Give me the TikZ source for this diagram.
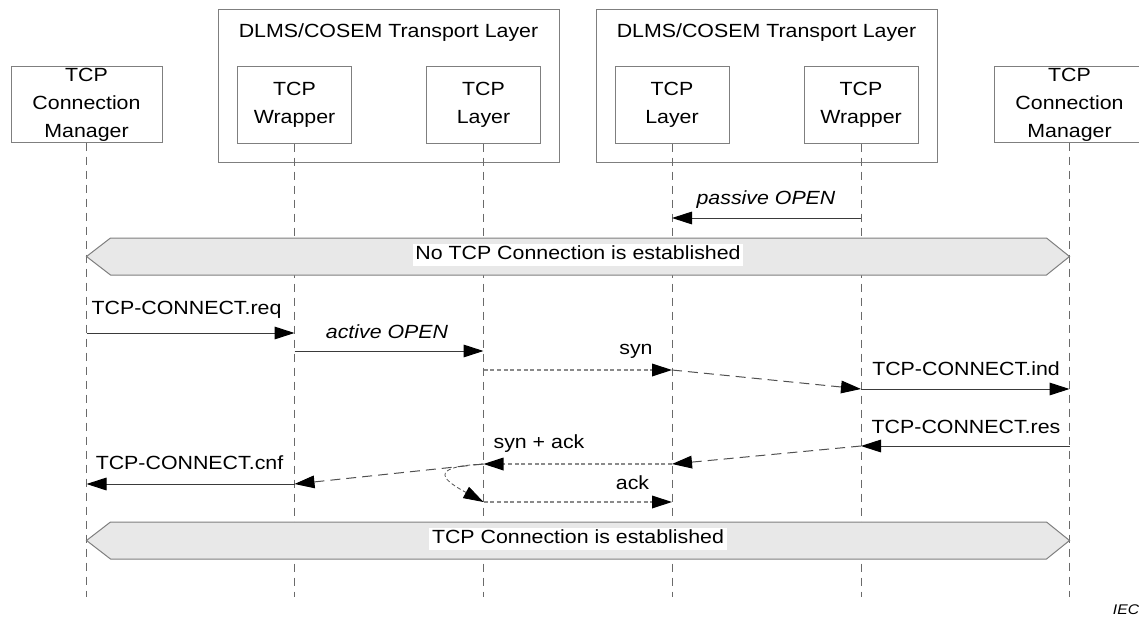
\documentclass[tikz,border=0pt]{standalone}
\usepackage{fontspec}
\setmainfont{Liberation Sans}[FakeStretch=1.12]
\usetikzlibrary{arrows.meta,calc}
\definecolor{boxgray}{HTML}{7F7F7F}
\definecolor{lifegray}{HTML}{6A6A6A}
\definecolor{msgdark}{HTML}{3A3A3A}
\definecolor{dotgray}{HTML}{8A8A8A}
\definecolor{diaggray}{HTML}{505050}
\definecolor{banfill}{HTML}{E8E8E8}
\begin{document}
\begin{tikzpicture}[x=0.75pt,y=-0.75pt,
  font=\fontsize{14.3}{21}\selectfont,
  tip/.tip={Triangle[length=15pt,width=9.5pt]},
  outerbox/.style={draw=boxgray,line width=0.75pt,minimum width=255.75pt,minimum height=114pt,inner sep=0pt},
  tcmbox/.style={draw=boxgray,line width=0.75pt,minimum width=113.25pt,minimum height=56.25pt,align=center,inner sep=0pt},
  inbox/.style={draw=boxgray,line width=0.75pt,minimum width=85.5pt,minimum height=57pt,align=center,inner sep=0pt},
  life/.style={draw=lifegray,line width=0.6pt,dash pattern=on 6pt off 4.5pt},
  solidmsg/.style={draw=msgdark,line width=0.75pt,-{tip[black]}},
  dotmsg/.style={draw=dotgray,line width=0.9pt,dash pattern=on 3pt off 2pt,-{tip[black]}},
  diagmsg/.style={draw=diaggray,line width=0.75pt,dash pattern=on 7.5pt off 4.5pt,-{tip[black]}},
  curvemsg/.style={draw=diaggray,line width=0.6pt,dash pattern=on 3pt off 2pt,-{tip[black]}},
  banner/.style={draw=boxgray,fill=banfill,line width=0.75pt},
  bantext/.style={fill=white,inner xsep=2pt,inner ysep=1.5pt,text height=10.5pt,text depth=3.5pt},
  lbl/.style={inner sep=0pt},
]
\useasboundingbox (0,0) rectangle (1139,617);

% outer transport layer boxes
\node[outerbox] (tlL) at (388.5,86) {};
\node[outerbox] (tlR) at (766.5,86) {};
\node[lbl] (tlLt) at (388.5,33) {DLMS/COSEM Transport Layer};
\node[lbl] (tlRt) at (766.5,33) {DLMS/COSEM Transport Layer};

% participant boxes
\node[tcmbox] (tcmL) at (86.5,104.5) {TCP\\Connection\\Manager};
\node[inbox] (wrL) at (294.5,105) {TCP\\Wrapper};
\node[inbox] (layL) at (483.5,105) {TCP\\Layer};
\node[inbox] (layR) at (672,105) {TCP\\Layer};
\node[inbox] (wrR) at (861,105) {TCP\\Wrapper};
\node[tcmbox] (tcmR) at (1069.5,104.5) {TCP\\Connection\\Manager};

% lifelines
\coordinate (bot) at (0,597);
\foreach \n in {tcmL,wrL,layL,layR,wrR,tcmR}{
  \draw[life] (\n.south) -- (\n.south |- bot);
}

% y levels
\coordinate (yPO) at (0,218);
\coordinate (yB1) at (0,256.5);
\coordinate (yReq) at (0,333);
\coordinate (yAO) at (0,351);
\coordinate (ySyn) at (0,370);
\coordinate (yInd) at (0,389);
\coordinate (yRes) at (0,446);
\coordinate (ySA) at (0,464);
\coordinate (yCnf) at (0,484);
\coordinate (yAck) at (0,502);
\coordinate (yB2) at (0,540.5);

% passive OPEN
\draw[solidmsg] (wrR |- yPO) -- (layR |- yPO);
\node[lbl,font=\fontsize{14.3}{21}\selectfont\itshape] (lPO) at (766,200) {passive OPEN};

% banner 1
\draw[banner] (tcmL |- yB1) -- ++(24,-18.5) -- ($(tcmR |- yB1)+(-23,-18.5)$) -- (tcmR |- yB1)
  -- ($(tcmR |- yB1)+(-23,18.5)$) -- ($(tcmL |- yB1)+(24,18.5)$) -- cycle;
\node[bantext] (nb1) at ($(tcmL |- yB1)!0.5!(tcmR |- yB1)+(0,-1.5)$) {No TCP Connection is established};

% connect request
\draw[solidmsg] (tcmL |- yReq) -- (wrL |- yReq);
\node[lbl] (lReq) at (186.5,310) {TCP-CONNECT.req};
\draw[solidmsg] (wrL |- yAO) -- (layL |- yAO);
\node[lbl,font=\fontsize{14.3}{21}\selectfont\itshape] (lAO) at (387,332) {active OPEN};
\draw[dotmsg] (layL |- ySyn) -- (layR |- ySyn);
\node[lbl] (lSyn) at (636,351) {syn};
\draw[diagmsg] (layR |- ySyn) -- (wrR |- yInd);
\draw[solidmsg] (wrR |- yInd) -- (tcmR |- yInd);
\node[lbl] (lInd) at (966,369) {TCP-CONNECT.ind};

% response
\draw[solidmsg] (tcmR |- yRes) -- (wrR |- yRes);
\node[lbl] (lRes) at (966,427) {TCP-CONNECT.res};
\draw[diagmsg] (wrR |- yRes) -- (layR |- ySA);
\draw[dotmsg] (layR |- ySA) -- (layL |- ySA);
\node[lbl] (lSA) at (539,444) {syn + ack};
\draw[diagmsg] (layL |- ySA) -- (wrL |- yCnf);
\draw[solidmsg] (wrL |- yCnf) -- (tcmL |- yCnf);
\node[lbl] (lCnf) at (189.5,463) {TCP-CONNECT.cnf};
\draw[curvemsg] (layL |- ySA) .. controls (425,467) and (445,481) .. (layL |- yAck);
\draw[dotmsg] (layL |- yAck) -- (layR |- yAck);
\node[lbl] (lAck) at (632.5,483) {ack};

% banner 2
\draw[banner] (tcmL |- yB2) -- ++(24,-18.5) -- ($(tcmR |- yB2)+(-23,-18.5)$) -- (tcmR |- yB2)
  -- ($(tcmR |- yB2)+(-23,18.5)$) -- ($(tcmL |- yB2)+(24,18.5)$) -- cycle;
\node[bantext] (nb2) at ($(tcmL |- yB2)!0.5!(tcmR |- yB2)+(0,-1.5)$) {TCP Connection is established};

% IEC mark
\node[lbl,font=\fontsize{10.5}{12}\selectfont\itshape] (iec) at (1126,610) {IEC};
\end{tikzpicture}
\end{document}
